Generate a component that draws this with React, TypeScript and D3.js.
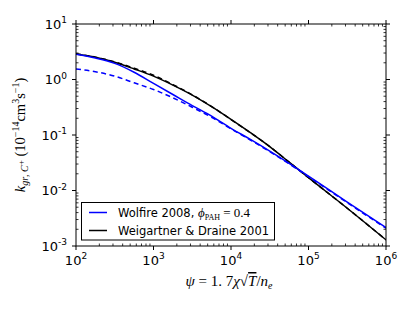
import React from 'react';
import * as d3 from 'd3';

const psi = [100, 178, 316, 562, 1000, 1778, 3162, 5623, 10000, 17783, 31623, 56234, 100000, 316228, 1000000];

const wolfireSolid = [2.85, 2.43, 1.95, 1.35, 0.851, 0.537, 0.339, 0.219, 0.132, 0.0832, 0.0513, 0.0309, 0.0182, 0.00617, 0.00214];
const wolfireDashed = [1.55, 1.38, 1.15, 0.871, 0.661, 0.468, 0.316, 0.209, 0.129, 0.0813, 0.0501, 0.0302, 0.0178, 0.00603, 0.00209];
const wdSolid = [2.88, 2.51, 2.04, 1.55, 1.15, 0.794, 0.525, 0.324, 0.191, 0.11, 0.0617, 0.0324, 0.0170, 0.00479, 0.00129];
const wdDashed = [2.9, 2.53, 2.07, 1.6, 1.19, 0.81, 0.53, 0.326, 0.19, 0.11, 0.0617, 0.0324, 0.0170, 0.00479, 0.00129];

const xTickExp = [2, 3, 4, 5, 6];
const yTickExp = ['1', '0', '-1', '-2', '-3'];

const series = [
  { values: wdSolid, color: '#000000', dash: null },
  { values: wdDashed, color: '#000000', dash: '5,3.5' },
  { values: wolfireDashed, color: '#0000ff', dash: '5,3.5' },
  { values: wolfireSolid, color: '#0000ff', dash: null },
];

const width = 415;
const height = 312;
const margin = { top: 24, right: 29, bottom: 66, left: 76 };

const sans = 'DejaVu Sans, sans-serif';
const serif = 'Liberation Serif, DejaVu Serif, serif';

export default function App() {
  const x = d3.scaleLog().domain([1e2, 1e6]).range([margin.left, width - margin.right]);
  const y = d3.scaleLog().domain([1e-3, 1e1]).range([height - margin.bottom, margin.top]);
  const x0 = margin.left;
  const x1 = width - margin.right;
  const y0 = height - margin.bottom;
  const y1 = margin.top;

  const line = d3
    .line<number>()
    .curve(d3.curveMonotoneX)
    .x((d, i) => x(psi[i]))
    .y((d) => y(d));

  const xMinor: number[] = [];
  for (let e = 2; e < 6; e++) for (let m = 2; m < 10; m++) xMinor.push(m * Math.pow(10, e));
  const yMinor: number[] = [];
  for (let e = -3; e < 1; e++) for (let m = 2; m < 10; m++) yMinor.push(m * Math.pow(10, e));

  const major = 4;
  const minor = 2.5;

  return (
    <svg width={width} height={height} style={{ position: 'absolute', left: 0, top: 0, background: '#fff' }}>
      <defs>
        <clipPath id="plot">
          <rect x={x0} y={y1} width={x1 - x0} height={y0 - y1} />
        </clipPath>
      </defs>
      <rect x={0} y={0} width={width} height={height} fill="#fff" />

      <g clipPath="url(#plot)" fill="none" strokeWidth={1.5}>
        {series.map((s, i) => (
          <path key={i} d={line(s.values) || ''} stroke={s.color} strokeDasharray={s.dash || undefined} />
        ))}
      </g>

      {/* frame */}
      <rect x={x0} y={y1} width={x1 - x0} height={y0 - y1} fill="none" stroke="#000" strokeWidth={1} />

      {/* minor ticks, pointing in */}
      <g stroke="#000" strokeWidth={0.8}>
        {xMinor.map((v) => (
          <g key={'xm' + v}>
            <line x1={x(v)} x2={x(v)} y1={y0} y2={y0 - minor} />
            <line x1={x(v)} x2={x(v)} y1={y1} y2={y1 + minor} />
          </g>
        ))}
        {yMinor.map((v) => (
          <g key={'ym' + v}>
            <line x1={x0} x2={x0 + minor} y1={y(v)} y2={y(v)} />
            <line x1={x1} x2={x1 - minor} y1={y(v)} y2={y(v)} />
          </g>
        ))}
      </g>

      {/* major ticks, pointing out */}
      <g stroke="#000" strokeWidth={1}>
        {xTickExp.map((e) => {
          const px = x(Math.pow(10, e));
          return (
            <g key={'xt' + e}>
              <line x1={px} x2={px} y1={y0} y2={y0 + major} />
              <line x1={px} x2={px} y1={y1} y2={y1 - major} />
            </g>
          );
        })}
        {yTickExp.map((e) => {
          const py = y(Math.pow(10, +e));
          return (
            <g key={'yt' + e}>
              <line x1={x0} x2={x0 - major} y1={py} y2={py} />
              <line x1={x1} x2={x1 + major} y1={py} y2={py} />
            </g>
          );
        })}
      </g>

      {/* tick labels */}
      <g fontFamily={sans} fontSize={13} fill="#000">
        {xTickExp.map((e) => (
          <text key={'xl' + e} x={x(Math.pow(10, e))} y={265} textAnchor="middle">
            10
            <tspan fontSize={9} dy={-6}>
              {e}
            </tspan>
          </text>
        ))}
        {yTickExp.map((e) => (
          <text key={'yl' + e} x={67} y={y(Math.pow(10, +e)) + 4.7} textAnchor="end">
            10
            <tspan fontSize={9} dy={-5.5}>
              {e}
            </tspan>
          </text>
        ))}
      </g>

      {/* legend */}
      <g>
        <rect x={81.5} y={202.5} width={193} height={37.5} fill="#fff" stroke="#000" strokeWidth={1} />
        <line x1={89} x2={107} y1={212.5} y2={212.5} stroke="#0000ff" strokeWidth={1.5} />
        <line x1={89} x2={107} y1={230.5} y2={230.5} stroke="#000" strokeWidth={1.5} />
        <text x={118} y={216.5} fontFamily={sans} fontSize={11.5}>
          Wolfire 2008,{' '}
          <tspan fontFamily={serif} fontStyle="italic" fontSize={13}>
            ϕ
          </tspan>
          <tspan fontFamily={serif} fontSize={8} dy={3}>
            PAH
          </tspan>
          <tspan fontFamily={serif} fontSize={13} dy={-3}>
            {' = 0.4'}
          </tspan>
        </text>
        <text x={118} y={234.5} fontFamily={sans} fontSize={11.5}>
          Weigartner &amp; Draine 2001
        </text>
      </g>

      {/* x axis label */}
      <text x={(x0 + x1) / 2 - 2} y={286} textAnchor="middle" fontFamily={serif} fontSize={15}>
        <tspan fontStyle="italic">ψ</tspan>
        {' = 1. 7'}
        <tspan fontStyle="italic">χ</tspan>
        {'√'}
        <tspan fontStyle="italic" textDecoration="overline">T</tspan>
        {'/'}
        <tspan fontStyle="italic">n</tspan>
        <tspan fontStyle="italic" fontSize={10} dy={3}>
          e
        </tspan>
      </text>

      {/* y axis label */}
      <text
        transform={`translate(25,${(y0 + y1) / 2}) rotate(-90)`}
        textAnchor="middle"
        fontFamily={serif}
        fontSize={14.5}
      >
        <tspan fontStyle="italic">k</tspan>
        <tspan fontStyle="italic" fontSize={10} dy={3}>
          gr
        </tspan>
        <tspan fontSize={10}>, </tspan>
        <tspan fontStyle="italic" fontSize={10}>
          C
        </tspan>
        <tspan fontSize={9} dy={-4}>
          +
        </tspan>
        <tspan dy={1}>{' (10'}</tspan>
        <tspan fontSize={10} dy={-6}>
          −14
        </tspan>
        <tspan dy={6}>{'cm'}</tspan>
        <tspan fontSize={10} dy={-6}>
          3
        </tspan>
        <tspan dy={6}>{'s'}</tspan>
        <tspan fontSize={10} dy={-6}>
          −1
        </tspan>
        <tspan dy={6}>{')'}</tspan>
      </text>
    </svg>
  );
}
